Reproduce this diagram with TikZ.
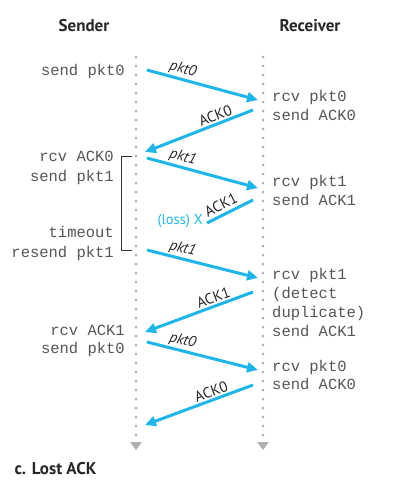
\documentclass[tikz,border=0pt]{standalone}
\usepackage{fontspec}
\setmainfont{PT Sans}
\setmonofont{Liberation Mono}
\usetikzlibrary{arrows.meta,positioning}
\definecolor{msgblue}{RGB}{30,182,232}
\definecolor{dotgrey}{RGB}{175,175,180}
\definecolor{txtgrey}{RGB}{85,85,85}
\tikzset{
    lifeline/.style={dotgrey, line width=3pt, line cap=round, dash pattern=on 0pt off 9pt,
        -{Triangle[length=8pt,width=11pt,line cap=butt]}},
    msg/.style={msgblue, line width=3pt, -{Triangle[length=11pt,width=10pt]}},
    lostmsg/.style={msgblue, line width=3pt},
    msglbl/.style={font=\fontsize{15}{17}\selectfont\itshape, text=black!85, sloped, above, inner sep=1.5pt},
    acklbl/.style={msglbl, font=\fontsize{15}{17}\selectfont},
    evt/.style={font=\fontsize{15.5}{19}\ttfamily, text=txtgrey, inner sep=0pt},
    sevt/.style={evt, anchor=base east},
    revt/.style={evt, anchor=base west},
    head/.style={font=\fontsize{17}{20}\selectfont\bfseries, text=black!85}
}
\begin{document}
\begin{tikzpicture}[x=1pt,y=-1pt]
    \useasboundingbox (0,0) rectangle (418,498);

    % column heads
    \node[head] (sender) at (84,26) {Sender};
    \node[head] (receiver) at (310,26) {Receiver};

    % time lines
    \coordinate (stop) at (136,57);
    \coordinate (sbot) at (136,450);
    \coordinate (rtop) at (263,57);
    \coordinate (rbot) at (263,450);
    \draw[lifeline] (stop) -- (sbot);
    \draw[lifeline] (rtop) -- (rbot);

    % sender side
    \node[sevt] (s1) at (125,75.5) {send pkt0};
    \node[sevt] (s2) at (114,161.5) {rcv ACK0};
    \node[sevt] (s3) at (114,181.5) {send pkt1};
    \node[sevt] (s4) at (114,237.5) {timeout};
    \node[sevt] (s5) at (114,257.5) {resend pkt1};
    \node[sevt] (s6) at (125,335.5) {rcv ACK1};
    \node[sevt] (s7) at (125,353.5) {send pkt0};

    % receiver side
    \node[revt] (r1) at (272,101.5) {rcv pkt0};
    \node[revt] (r2) at (272,120.5) {send ACK0};
    \node[revt] (r3) at (272,186.5) {rcv pkt1};
    \node[revt] (r4) at (272,205.5) {send ACK1};
    \node[revt] (r5) at (272,279.5) {rcv pkt1};
    \node[revt] (r6) at (272,298.5) {(detect};
    \node[revt] (r7) at (272,317.5) {duplicate)};
    \node[revt] (r8) at (272,336.5) {send ACK1};
    \node[revt] (r9) at (272,371.5) {rcv pkt0};
    \node[revt] (r10) at (272,389.5) {send ACK0};

    % timeout bracket
    \draw[black!80, line width=0.9pt] (132,156) -- (121,156) -- (121,250) -- (132,250);

    % message end points
    \coordinate (a1) at (147,70);   \coordinate (b1) at (258,100);
    \coordinate (a2) at (253,110);  \coordinate (b2) at (145,152);
    \coordinate (a3) at (147,158);  \coordinate (b3) at (258,188);
    \coordinate (a4) at (253,200);
    \coordinate (a5) at (147,250);  \coordinate (b5) at (258,278);
    \coordinate (a6) at (253,292);  \coordinate (b6) at (145,332);
    \coordinate (a7) at (147,342);  \coordinate (b7) at (258,370);
    \coordinate (a8) at (253,385);  \coordinate (b8) at (145,425);

    \node[font=\fontsize{14.5}{17}\selectfont, text=msgblue, anchor=east, inner sep=1pt] (loss) at (204,221) {(loss) X};

    % messages
    \draw[msg] (a1) -- node[msglbl, pos=0.3] {pkt0} (b1);
    \draw[msg] (a2) -- node[acklbl, pos=0.32] {ACK0} (b2);
    \draw[msg] (a3) -- node[msglbl, pos=0.3] {pkt1} (b3);
    \draw[lostmsg] (a4) -- node[acklbl, pos=0.6, inner sep=3pt] {ACK1} ([xshift=3pt,yshift=-2pt]loss.east);
    \draw[msg] (a5) -- node[msglbl, pos=0.3] {pkt1} (b5);
    \draw[msg] (a6) -- node[acklbl, pos=0.34] {ACK1} (b6);
    \draw[msg] (a7) -- node[msglbl, pos=0.3] {pkt0} (b7);
    \draw[msg] (a8) -- node[acklbl, pos=0.36] {ACK0} (b8);

    % caption
    \node[head, anchor=west] (caption) at (11,469) {c. Lost ACK};
\end{tikzpicture}
\end{document}
